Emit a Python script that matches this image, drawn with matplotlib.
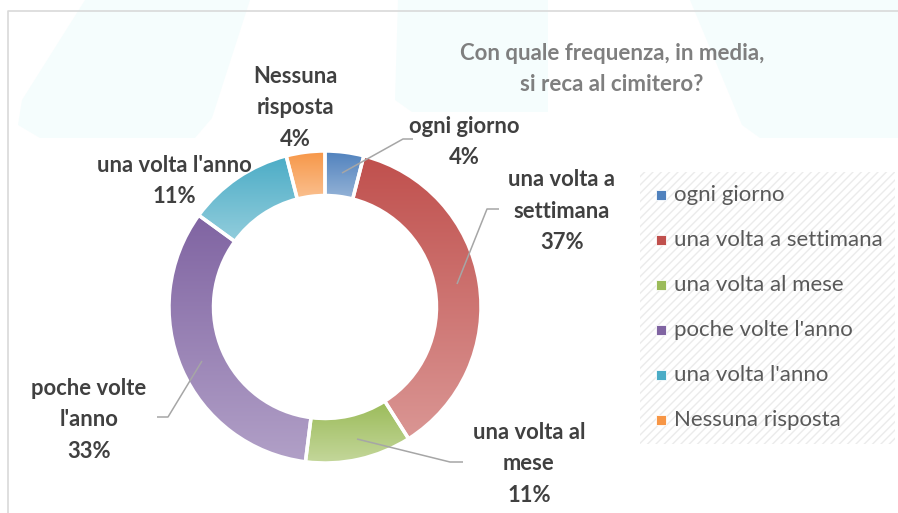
import numpy as np
import matplotlib
matplotlib.use("Agg")
import matplotlib.pyplot as plt
from matplotlib.patches import Rectangle, Polygon
from matplotlib.colors import LinearSegmentedColormap

plt.rcParams['font.family'] = ['Lato', 'DejaVu Sans']

# data
categories = ["ogni giorno", "una volta a settimana", "una volta al mese",
              "poche volte l'anno", "una volta l'anno", "Nessuna risposta"]
values = [4, 37, 11, 33, 11, 4]
label_texts = ["ogni giorno\n4%", "una volta a\nsettimana\n37%",
               "una volta al\nmese\n11%", "poche volte\nl'anno\n33%",
               "una volta l'anno\n11%", "Nessuna\nrisposta\n4%"]
top_colors = ["#4F81BD", "#C0504D", "#9BBB59", "#8064A2", "#4BACC6", "#F79646"]
bottom_colors = ["#95B3D7", "#DA9694", "#C4D79B", "#B1A0C7", "#92CDDC", "#FAC090"]
title = "Con quale frequenza, in media,\nsi reca al cimitero?"

W, H = 898, 513

def Y(y):
    return H - y

# label layout (pixel positions, y measured from top)
label_pos = [(464, 142), (562, 211), (529, 464), (89, 420), (174, 181), (295, 108)]
leaders = {
    0: [(342, 173), (403, 139), (413, 139)],
    1: [(457, 284), (487, 209), (499, 209)],
    2: [(357, 439), (450, 462), (463, 462)],
    3: [(202, 361), (168, 417), (157, 417)],
}

fig = plt.figure(figsize=(W / 100, H / 100), dpi=100)
ax = fig.add_axes([0, 0, 1, 1])

# faint watermark shapes in the background
wm = '#F5FDFD'
shapes = [
    [(85, 0), (250, 0), (212, 118), (195, 138), (40, 138), (18, 125), (22, 100)],
    [(398, 0), (548, 0), (548, 112), (412, 112), (395, 100)],
    [(690, 0), (898, 0), (898, 138), (760, 138), (742, 125)],
]
for s in shapes:
    ax.add_patch(Polygon([(x, Y(y)) for x, y in s], closed=True,
                         facecolor=wm, edgecolor='none', zorder=0))

# chart border
ax.plot([8, 8, 898], [Y(513), Y(11), Y(11)], color='#D9D9D9', lw=1.2, zorder=1)

# donut
wedges, _ = ax.pie(values, center=(325, Y(307)), radius=156, startangle=90,
                   counterclock=False,
                   wedgeprops=dict(width=44.5, edgecolor='white', linewidth=2.5))
grad = np.linspace(0, 1, 256).reshape(-1, 1)
for w, c0, c1 in zip(wedges, top_colors, bottom_colors):
    w.set_facecolor('none')
    w.set_zorder(3)
    ext = w.get_path().get_extents(w.get_patch_transform())
    cmap = LinearSegmentedColormap.from_list('g', [c1, c0])
    im = ax.imshow(grad, cmap=cmap, origin='lower', aspect='auto',
                   extent=(ext.x0, ext.x1, ext.y0, ext.y1), zorder=2,
                   interpolation='bilinear')
    im.set_clip_path(w)

# leader lines
for i, pts in leaders.items():
    ax.plot([p[0] for p in pts], [Y(p[1]) for p in pts],
            color='#A6A6A6', lw=1.1, zorder=4, solid_capstyle='butt')

# data labels
for txt, (x, y) in zip(label_texts, label_pos):
    ax.text(x, Y(y), txt, ha='center', va='center', multialignment='center',
            fontsize=15.8, fontweight='bold', color='#404040', linespacing=1.6,
            zorder=5)

# title
ax.text(612, Y(69), title, ha='center', va='center', multialignment='center',
        fontsize=16, fontweight='bold', color='#7F7F7F', linespacing=1.6,
        zorder=5)

# legend
ax.add_patch(Rectangle((640, Y(444)), 255, 272, facecolor='white',
                       edgecolor='#EBEBEB', hatch='////', lw=0, zorder=1))
rows = [195, 240, 285, 330, 375, 420]
for cat, c0, c1, ry in zip(categories, top_colors, bottom_colors, rows):
    ax.scatter([660.5], [Y(ry)], marker='s', s=44, color=c0, edgecolors='white',
               linewidths=0.6, zorder=5)
    ax.text(674, Y(ry), cat, ha='left', va='center', fontsize=16,
            color='#595959', zorder=5)

ax.set_xlim(0, W)
ax.set_ylim(0, H)
ax.set_aspect('auto')
ax.axis('off')

fig.savefig('out.png', dpi=100)
